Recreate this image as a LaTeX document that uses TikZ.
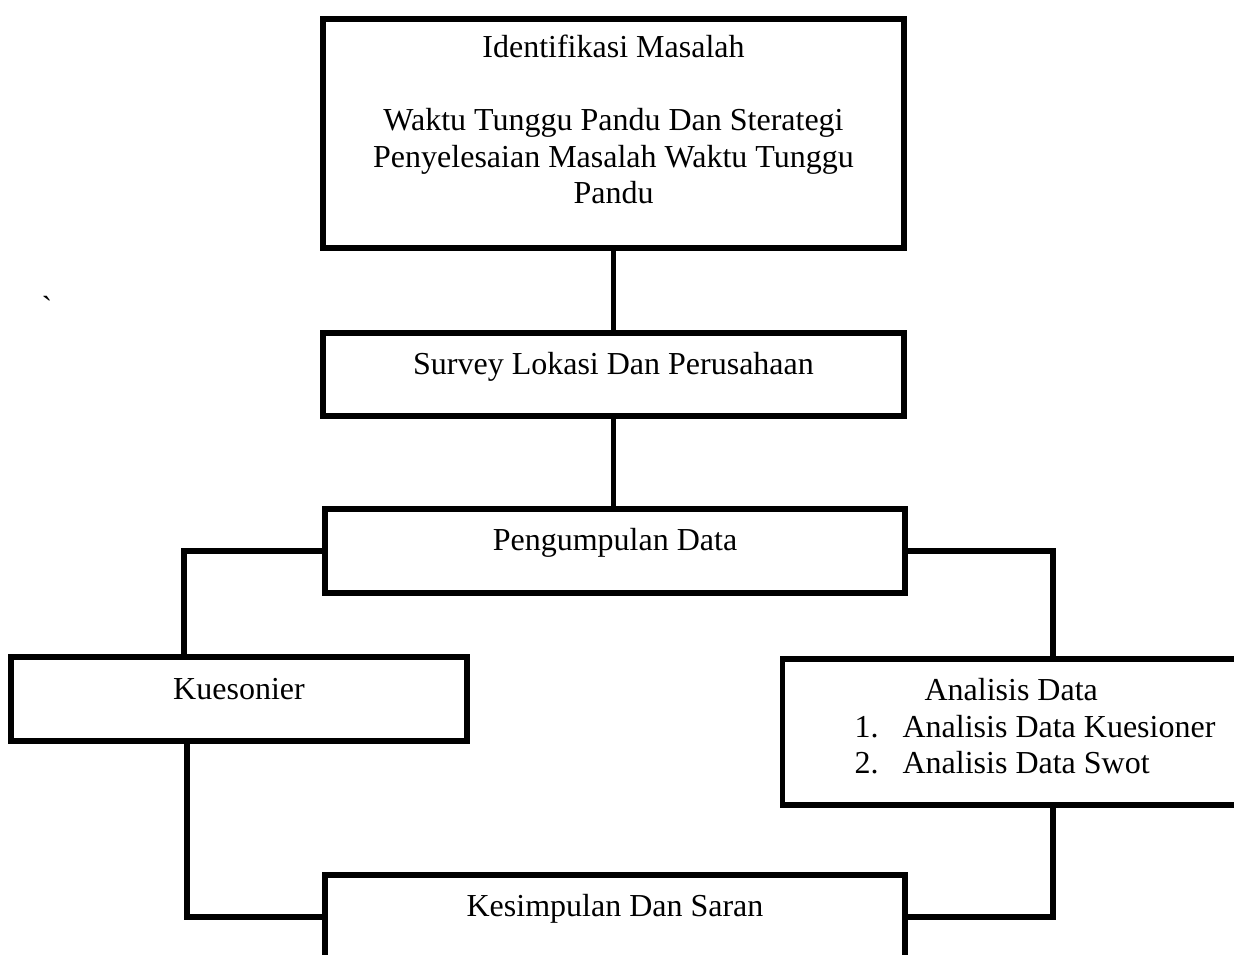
\documentclass[tikz,border=0pt]{standalone}
\usepackage{fontspec}
\setmainfont{Liberation Serif}
\usetikzlibrary{calc}
\newcommand{\kotakfont}{\fontsize{32}{36.4}\selectfont}
\tikzset{
  kotak/.style={draw=black, line width=5.7pt, inner sep=0pt, anchor=north, font=\kotakfont},
  garis/.style={draw=black, line width=5.7pt}
}
\begin{document}
\begin{tikzpicture}[x=1pt,y=-1pt]
\useasboundingbox (0,0) rectangle (1234,954);
\clip (0,0) rectangle (1234,954);
\node[kotak, minimum width=581pt, text height=39pt, text depth=190pt] (ident) at (613.5,16)
  {\begin{tabular}[t]{@{}c@{}}Identifikasi Masalah\\ \\Waktu Tunggu Pandu Dan Sterategi\\Penyelesaian Masalah Waktu Tunggu\\Pandu\end{tabular}};
\node[kotak, minimum width=581pt, text height=42pt, text depth=41pt] (survey) at (613.5,330) {Survey Lokasi Dan Perusahaan};
\node[kotak, minimum width=580pt, text height=42pt, text depth=42pt] (kumpul) at (615,506) {Pengumpulan Data};
\node[kotak, minimum width=456pt, text height=43pt, text depth=41pt] (kues) at (239,654) {Kuesonier};
\node[kotak, minimum width=505pt, text height=42pt, text depth=104pt] (analisis) at (1035,656)
  {\begin{tabular}[t]{@{}l@{}}\hspace*{70pt}Analisis Data\\\makebox[48pt][l]{1.}Analisis Data Kuesioner\\\makebox[48pt][l]{2.}Analisis Data Swot\end{tabular}};
\node[kotak, minimum width=580pt, text height=42pt, text depth=42pt] (simpul) at (615,872) {Kesimpulan Dan Saran};
\node[font=\kotakfont, inner sep=0pt, anchor=base] (tick) at (47,318) {\textasciigrave};
\draw[garis] (ident.south) -- (ident.south |- survey.north);
\draw[garis] (survey.south) -- (survey.south |- kumpul.north);
\draw[garis] (kumpul.west) -| ($(kues.north)+(-55,0)$);
\draw[garis] (kumpul.east) -| ($(analisis.north)+(18,0)$);
\draw[garis] ($(kues.south)+(-52,0)$) |- (simpul.west);
\draw[garis] ($(analisis.south)+(18,0)$) |- (simpul.east);
\end{tikzpicture}
\end{document}
